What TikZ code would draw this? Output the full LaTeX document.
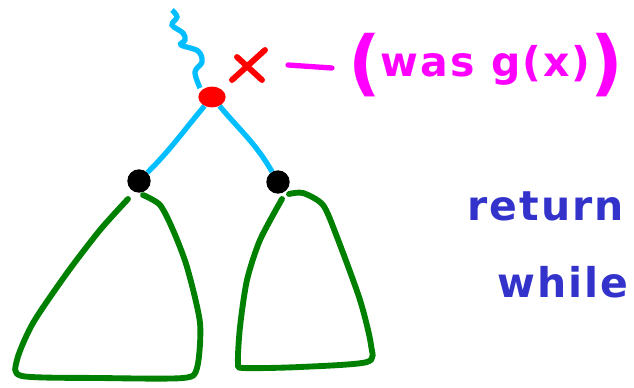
\documentclass[tikz,border=0pt]{standalone}
\usepackage{fontspec}
\usetikzlibrary{shapes.geometric,backgrounds}
\newfontfamily\handfont[LetterSpace=5]{DejaVu Sans}
\definecolor{wirecol}{RGB}{0,190,255}
\definecolor{treecol}{RGB}{0,128,0}
\definecolor{inkblue}{RGB}{51,51,204}
\definecolor{inkpink}{RGB}{255,0,255}
\newcommand{\bigparen}[1]{\raisebox{-10pt}{\fontsize{61}{61}\selectfont#1}}

\begin{document}
\begin{tikzpicture}[x=0.03cm, y=-0.03cm, line cap=round, line join=round,
    wire/.style={draw=wirecol, line width=4.5pt},
    tree/.style={draw=treecol, line width=5pt},
    dot/.style={circle, fill=black, inner sep=0pt, minimum size=0.7cm},
    note/.style={anchor=base west, inner sep=0pt, font=\handfont\bfseries\fontsize{35}{40}\selectfont}]
  \useasboundingbox (0,0) rectangle (634,388);

  % the node and its two children
  \node[ellipse, fill=red, inner sep=0pt, minimum width=0.82cm, minimum height=0.62cm] (root) at (212,97) {};
  \node[dot] (lkid) at (139,181) {};
  \node[dot] (rkid) at (278,182) {};

  \begin{scope}[on background layer]
    \coordinate (feed) at (172,10);
    \draw[wire] plot[smooth, tension=0.6] coordinates {(feed) (177,17) (172,25) (183,33) (185,40) (181,45) (198,51) (202,62) (195,72) (200,88)};
    \draw[wire] (root) to[out=-130, in=45] (lkid);
    \draw[wire] (root) to[out=-50, in=120] (rkid);
  \end{scope}

  % subtrees
  \draw[tree] plot[smooth, tension=0.45] coordinates {(128,199) (100,230) (67,273) (33,323) (17,360) (22,376) (100,378) (183,378) (197,368) (200,323) (187,267) (173,230) (160,205) (143,195)};
  \draw[tree] plot[smooth, tension=0.45] coordinates {(282,199) (260,240) (247,280) (240,327) (238,363) (244,368) (300,367) (367,362) (371,345) (360,300) (337,237) (323,205) (303,193) (289,194)};

  % the mark on the node
  \draw[red, line width=5pt] (232,80) -- (265,50);
  \draw[red, line width=5pt] (237,57) -- (262,80);
  \draw[inkpink, line width=4.5pt] (288,65) -- (332,68);
  \node[note, text=inkpink] (was) at (348,76) {\bigparen{(}was g(x)\bigparen{)}};

  \node[note, text=inkblue] (ret) at (467,220) {return};
  \node[note, text=inkblue] (whl) at (497,297) {while};
\end{tikzpicture}
\end{document}
